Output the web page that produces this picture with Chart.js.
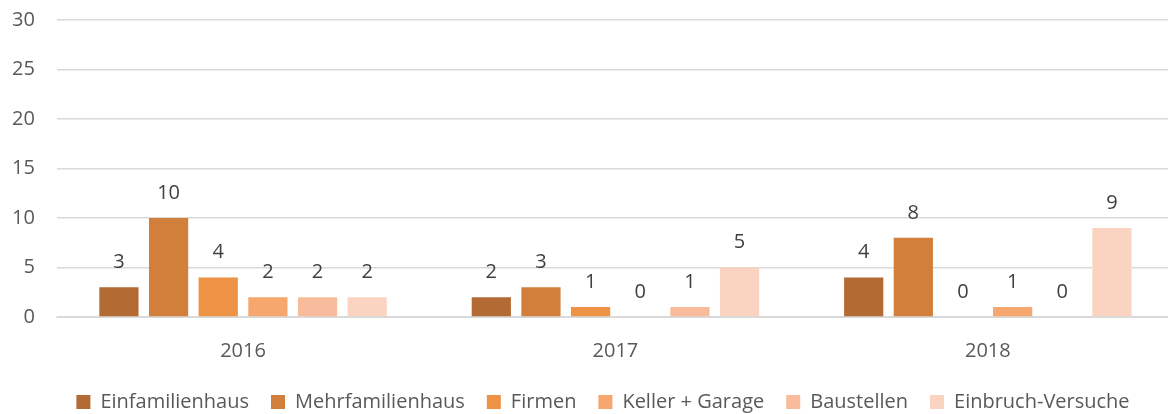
<!DOCTYPE html>
<html lang="de">
<head>
    <meta charset="UTF-8">
    <title>Einbrüche</title>
    <script src="https://cdn.jsdelivr.net/npm/chart.js"></script>
    <style>
        html, body { margin: 0; padding: 0; background: #fff; overflow: hidden; }
        body { width: 1168px; height: 414px; position: relative; }
        #wrap { position: absolute; left: -10px; top: -14px; width: 1184px; height: 436px; }
    </style>
</head>
<body>
    <div id="wrap"><canvas id="chart"></canvas></div>
    <script>
        // Daten
        const years = ['2016', '2017', '2018'];
        const seriesNames = ['Einfamilienhaus', 'Mehrfamilienhaus', 'Firmen', 'Keller + Garage', 'Baustellen', 'Einbruch-Versuche'];
        const einfamilienhaus = [3, 2, 4];
        const mehrfamilienhaus = [10, 3, 8];
        const firmen = [4, 1, 0];
        const kellerGarage = [2, 0, 1];
        const baustellen = [2, 1, 0];
        const einbruchVersuche = [2, 5, 9];
        const yTicks = [0, 5, 10, 15, 20, 25, 30];

        const colors = ['#B36B33', '#D27F3B', '#EE9245', '#F6A76E', '#F8BC9C', '#FAD4C1'];
        const values = [einfamilienhaus, mehrfamilienhaus, firmen, kellerGarage, baustellen, einbruchVersuche];
        const fontFamily = '"Open Sans", sans-serif';
        const fontSize = 20;

        // Wertbeschriftungen über den Balken
        const valueLabels = {
            id: 'valueLabels',
            afterDatasetsDraw(chart) {
                const ctx = chart.ctx;
                ctx.save();
                ctx.font = fontSize + 'px ' + fontFamily;
                ctx.fillStyle = '#404040';
                ctx.textAlign = 'center';
                ctx.textBaseline = 'middle';
                chart.data.datasets.forEach((ds, i) => {
                    chart.getDatasetMeta(i).data.forEach((bar, j) => {
                        ctx.fillText(String(ds.data[j]), bar.x, bar.y - 25);
                    });
                });
                ctx.restore();
            }
        };

        // Legende etwas nach rechts (Original ist rechts beschnitten)
        const shiftLegend = {
            id: 'shiftLegend',
            afterLayout(chart) {
                chart.legend.left += 21;
                chart.legend.right += 21;
            }
        };

        const ctx = document.getElementById('chart').getContext('2d');
        new Chart(ctx, {
            type: 'bar',
            data: {
                labels: years,
                datasets: seriesNames.map((name, i) => ({
                    label: name,
                    data: values[i],
                    backgroundColor: colors[i],
                    categoryPercentage: 0.8,
                    barPercentage: 0.79
                }))
            },
            options: {
                responsive: true,
                maintainAspectRatio: false,
                animation: false,
                layout: { padding: { left: 0, right: 0, top: 0, bottom: 0 } },
                scales: {
                    x: {
                        grid: { display: false },
                        border: { color: '#d9d9d9', width: 1 },
                        ticks: { color: '#595959', font: { family: fontFamily, size: fontSize }, padding: 14 },
                        afterFit: axis => { axis.height -= 7; }
                    },
                    y: {
                        min: 0,
                        max: 30,
                        afterBuildTicks: axis => { axis.ticks = yTicks.map(v => ({ value: v })); },
                        grid: { color: '#d9d9d9', lineWidth: 1.5, drawTicks: false },
                        border: { display: false },
                        ticks: { color: '#595959', font: { family: fontFamily, size: fontSize }, padding: 22 }
                    }
                },
                plugins: {
                    legend: {
                        position: 'bottom',
                        labels: {
                            color: '#595959',
                            font: { family: fontFamily, size: fontSize },
                            boxWidth: 14,
                            boxHeight: 14,
                            padding: 22
                        }
                    },
                    tooltip: { enabled: false }
                }
            },
            plugins: [valueLabels, shiftLegend]
        });
    </script>
</body>
</html>
